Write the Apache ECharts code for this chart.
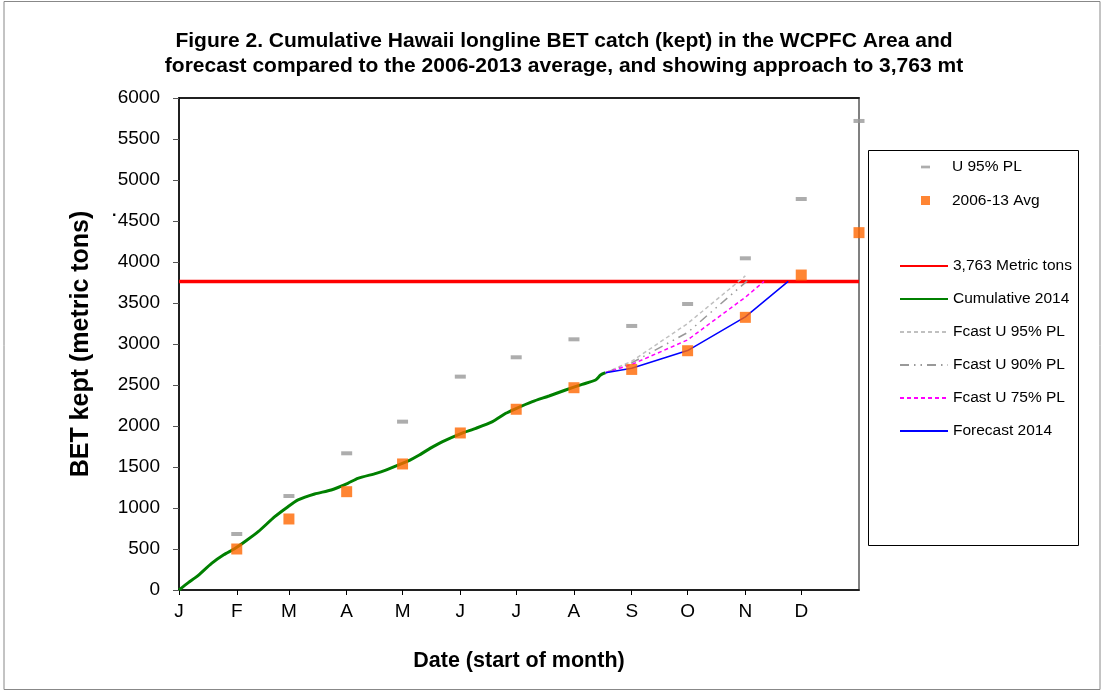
<!DOCTYPE html>
<html>
<head>
<meta charset="utf-8">
<script src="https://cdn.jsdelivr.net/npm/echarts@6/dist/echarts.min.js"></script>
<style>
    html, body { margin: 0; padding: 0; background: #fff; }
    #chart { width: 1105px; height: 693px; }
</style>
</head>
<body>
<div id="chart"></div>
<script>
    // month axis (day of year)
    var monthStarts = [0, 31, 59, 90, 120, 151, 181, 212, 243, 273, 304, 334];
    var monthLetters = ['J', 'F', 'M', 'A', 'M', 'J', 'J', 'A', 'S', 'O', 'N', 'D'];

    // monthly markers
    var markerDays = [31, 59, 90, 120, 151, 181, 212, 243, 273, 304, 334, 365];
    var u95Vals = [683, 1146, 1667, 2053, 2602, 2838, 3057, 3220, 3488, 4045, 4768, 5720];
    var avgVals = [500, 866, 1199, 1537, 1915, 2204, 2467, 2690, 2918, 3325, 3841, 4358];

    // cumulative 2014
    var cumDays = [0, 5, 9.5, 17.5, 24, 30, 36, 42.5, 51.4, 58.5, 63.9, 72.8, 81.7, 90.6, 96, 105.8, 111, 119, 124, 129, 135, 141.5, 151, 159.4, 168.3, 175.4, 180, 189.7, 198.6, 207.5, 216.4, 223.6, 226.3, 229];
    var cumVals = [0, 90, 162, 325, 430, 505, 600, 711, 894, 1016, 1098, 1171, 1220, 1301, 1362, 1423, 1463, 1537, 1585, 1646, 1730, 1810, 1905, 1972, 2053, 2155, 2204, 2297, 2366, 2439, 2508, 2561, 2622, 2650];

    // forecasts
    var fc95Days = [229, 243, 273, 304];
    var fc95Vals = [2650, 2790, 3250, 3830];
    var fc90Days = [229, 243, 273, 305];
    var fc90Vals = [2650, 2770, 3140, 3770];
    var fc75Days = [229, 243, 273, 304, 314];
    var fc75Vals = [2650, 2750, 3050, 3570, 3763];
    var fcDays = [229, 243, 273, 304, 327];
    var fcVals = [2650, 2705, 2920, 3330, 3763];

    var limit = 3763;

    function pairs(xs, ys) {
        var out = [];
        for (var i = 0; i < xs.length; i++) {
            out.push([xs[i], ys[i]]);
        }
        return out;
    }

    var font = 'Liberation Sans, Arial, sans-serif';
    var myChart = echarts.init(document.getElementById('chart'));
    myChart.setOption({
        animation: false,
        textStyle: { fontFamily: font, color: '#000' },
        title: {
            text: 'Figure 2. Cumulative Hawaii longline BET catch (kept) in the WCPFC Area and\nforecast compared to the 2006-2013 average, and showing approach to 3,763 mt',
            left: 559,
            top: 24,
            textAlign: 'center',
            textStyle: { fontFamily: font, fontSize: 21, fontWeight: 'bold', color: '#000', lineHeight: 25 }
        },
        grid: {
            left: 179, top: 98, right: 246, bottom: 103,
            show: true, borderColor: '#808080', borderWidth: 2
        },
        legend: [
            {
                orient: 'vertical', left: 921, top: 159, padding: 0,
                itemWidth: 9, itemHeight: 14, itemGap: 17.5,
                textStyle: { fontFamily: font, fontSize: 15.5, color: '#000', padding: [0, 0, 0, 17] },
                data: [
                    { name: 'U 95% PL', icon: 'path://M0,0H10V3H0Z' },
                    { name: '2006-13 Avg', icon: 'path://M0,0H8V8H0Z' }
                ]
            },
            {
                orient: 'vertical', left: 899, top: 258, padding: 0,
                itemWidth: 48, itemHeight: 14, itemGap: 17,
                itemStyle: { opacity: 0 },
                textStyle: { fontFamily: font, fontSize: 15.5, color: '#000' },
                data: ['3,763 Metric tons', 'Cumulative 2014', 'Fcast U 95% PL', 'Fcast U 90% PL', 'Fcast U 75% PL', 'Forecast 2014']
            }
        ],
        xAxis: [
            {
                type: 'value', min: 0, max: 365,
                splitLine: { show: false },
                axisLine: { lineStyle: { color: '#000', width: 1.5 } },
                axisTick: { length: 5, lineStyle: { color: '#000' }, customValues: monthStarts },
                axisLabel: {
                    customValues: monthStarts, margin: 12,
                    fontSize: 19, color: '#000', fontFamily: font,
                    formatter: function (v) {
                        var i = monthStarts.indexOf(v);
                        return i >= 0 ? monthLetters[i] : '';
                    }
                },
                name: 'Date (start of month)',
                nameLocation: 'middle', nameGap: 60,
                nameTextStyle: { fontSize: 21.5, fontWeight: 'bold', color: '#000', fontFamily: font }
            },
            {
                type: 'value', min: 0, max: 365, position: 'top',
                axisLine: { show: true, lineStyle: { color: '#000', width: 1.5 } },
                axisTick: { show: false }, axisLabel: { show: false }, splitLine: { show: false }
            }
        ],
        yAxis: {
            type: 'value', min: 0, max: 6000, interval: 500,
            splitLine: { show: false },
            axisLine: { show: true, lineStyle: { color: '#000', width: 1.5 } },
            axisTick: { show: true, length: 6, lineStyle: { color: '#555' } },
            axisLabel: {
                fontSize: 19, color: '#000', margin: 19, fontFamily: font,
                formatter: function (v) { return String(v); }
            },
            name: 'BET kept (metric tons)',
            nameLocation: 'middle', nameGap: 85,
            nameTextStyle: { fontSize: 25, fontWeight: 'bold', color: '#000', fontFamily: font }
        },
        graphic: [
            { type: 'rect', shape: { x: 4, y: 1.5, width: 1096, height: 688 }, style: { fill: 'none', stroke: '#888', lineWidth: 1 }, silent: true },
            { type: 'rect', shape: { x: 868.5, y: 150.5, width: 210, height: 395 }, style: { fill: 'none', stroke: '#000', lineWidth: 1 }, silent: true },
            { type: 'text', left: 112, top: 204, style: { text: '.', fill: '#000', font: 'bold 16px ' + font } }
        ],
        series: [
            {
                name: '3,763 Metric tons', type: 'line', symbol: 'none',
                lineStyle: { color: '#ff0000', width: 3.5 }, itemStyle: { color: '#ff0000' },
                data: [[0, limit], [365, limit]], z: 2
            },
            {
                name: 'Cumulative 2014', type: 'line', symbol: 'none', smooth: 0.2,
                lineStyle: { color: '#008000', width: 3 }, itemStyle: { color: '#008000' },
                data: pairs(cumDays, cumVals), z: 3
            },
            {
                name: 'Fcast U 95% PL', type: 'line', symbol: 'none',
                lineStyle: { color: '#c0c0c0', width: 1.5, type: [4, 3] }, itemStyle: { color: '#c0c0c0' },
                data: pairs(fc95Days, fc95Vals), z: 3
            },
            {
                name: 'Fcast U 90% PL', type: 'line', symbol: 'none',
                lineStyle: { color: '#999999', width: 1.5, type: [9, 5, 1.5, 5, 1.5, 5] }, itemStyle: { color: '#999999' },
                data: pairs(fc90Days, fc90Vals), z: 3
            },
            {
                name: 'Fcast U 75% PL', type: 'line', symbol: 'none',
                lineStyle: { color: '#ff00ff', width: 1.5, type: [4, 3] }, itemStyle: { color: '#ff00ff' },
                data: pairs(fc75Days, fc75Vals), z: 3
            },
            {
                name: 'Forecast 2014', type: 'line', symbol: 'none',
                lineStyle: { color: '#0000ff', width: 1.5 }, itemStyle: { color: '#0000ff' },
                data: pairs(fcDays, fcVals), z: 3
            },
            {
                name: 'U 95% PL', type: 'scatter', symbol: 'rect', symbolSize: [11, 4],
                itemStyle: { color: '#999999' },
                data: pairs(markerDays, u95Vals), z: 4
            },
            {
                name: '2006-13 Avg', type: 'scatter', symbol: 'rect', symbolSize: 11,
                itemStyle: { color: '#ff6600' },
                data: pairs(markerDays, avgVals), z: 4
            }
        ]
    });
</script>
</body>
</html>
